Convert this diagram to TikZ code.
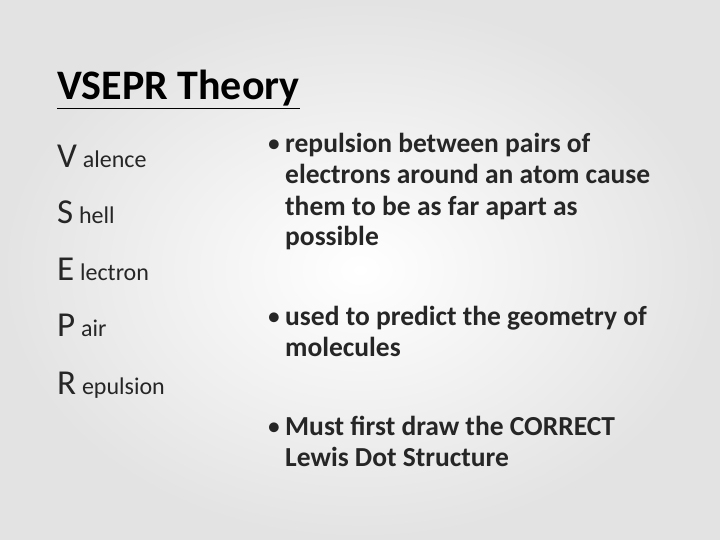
\documentclass[tikz,border=0pt]{standalone}
\usepackage{fontspec}
\setmainfont{Carlito}
\begin{document}
\begin{tikzpicture}[x=1pt,y=-1pt,
  big/.style={anchor=base west,inner sep=0pt,font=\fontsize{35}{38}\selectfont,text=black!85},
  small/.style={anchor=base west,inner sep=0pt,font=\fontsize{24}{28}\selectfont,text=black!85},
  bul/.style={anchor=base west,inner sep=0pt,font=\bfseries\fontsize{27.5}{30}\selectfont,text=black!85},
  dot/.style={anchor=base west,inner sep=0pt,font=\fontsize{27.5}{30}\selectfont,text=black!85}]
\useasboundingbox (0,0) rectangle (720,540);
\shade[inner color=white,outer color=gray!22] (0,0) rectangle (720,540);
\node[anchor=base west,inner sep=0pt,font=\bfseries\fontsize{42}{44}\selectfont] (title) at (57,100) {\underline{VSEPR Theory}};
\foreach \L/\R/\y [count=\i] in {V/alence/168,S/hell/224,E/lectron/280,P/air/336,R/epulsion/394}{
  \node[big] (L\i) at (57,\y) {\L};
  \node[small] (R\i) at (L\i.base east) {\ \R};
}
\node[dot] (d1) at (267,153) {•};
\node[bul] (b1) at (285,153) {repulsion between pairs of};
\node[bul] (b1b) at (285,184) {electrons around an atom cause};
\node[bul] (b1c) at (285,215) {them to be as far apart as};
\node[bul] (b1d) at (285,245) {possible};
\node[dot] (d2) at (267,325) {•};
\node[bul] (b2) at (285,325) {used to predict the geometry of};
\node[bul] (b2b) at (285,356) {molecules};
\node[dot] (d3) at (267,435) {•};
\node[bul] (b3) at (285,435) {Must first draw the CORRECT};
\node[bul] (b3b) at (285,466) {Lewis Dot Structure};
\end{tikzpicture}
\end{document}
